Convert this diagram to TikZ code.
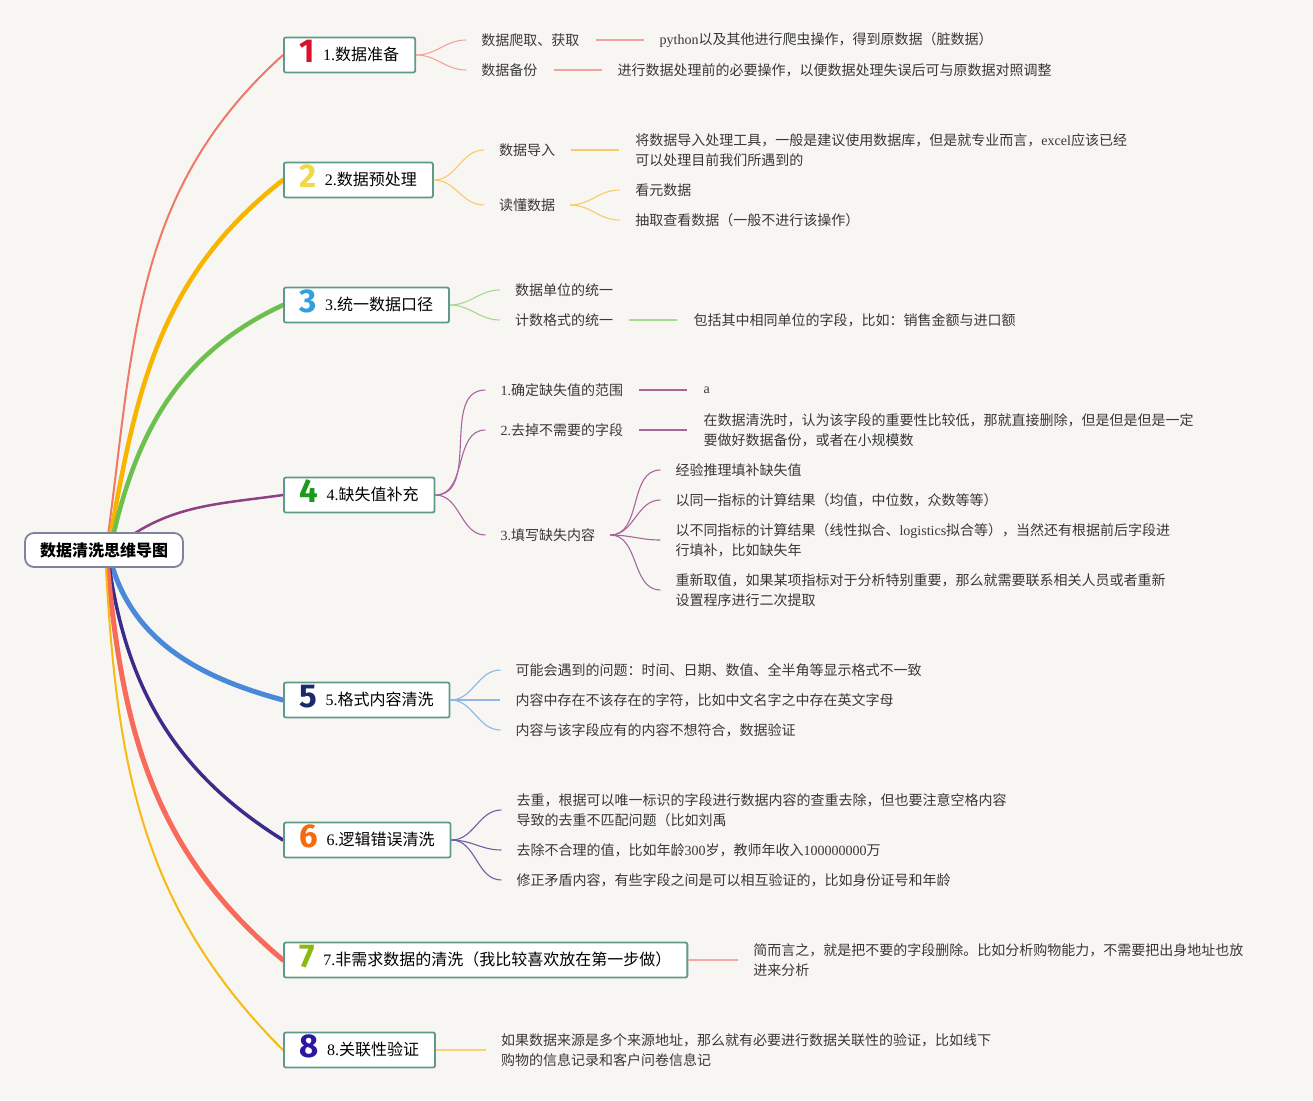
\documentclass[tikz,border=0pt]{standalone}
\usepackage{fontspec}
\setmainfont{Noto Sans CJK SC}
\newfontfamily\latfont{Liberation Serif}
\newfontfamily\numfont{Fira Sans}
\usetikzlibrary{positioning,backgrounds}
\definecolor{cleanPaper}{HTML}{F8F6F2}
\definecolor{cleanInk}{HTML}{383838}
\definecolor{cleanTeal}{HTML}{5E9A8A}
\definecolor{cleanRootLine}{HTML}{7D849E}
\definecolor{mainA}{HTML}{F07868}
\definecolor{mainB}{HTML}{F7B500}
\definecolor{mainC}{HTML}{6DC04E}
\definecolor{mainD}{HTML}{8E3F86}
\definecolor{mainE}{HTML}{4A88D8}
\definecolor{mainF}{HTML}{3B2C8C}
\definecolor{mainG}{HTML}{F86A5A}
\definecolor{mainH}{HTML}{F5BA14}
\definecolor{subA}{HTML}{F2A49B}
\definecolor{subB}{HTML}{F7CB6A}
\definecolor{subC}{HTML}{A6D98E}
\definecolor{subD}{HTML}{A8659E}
\definecolor{subE}{HTML}{8EB6E6}
\definecolor{subF}{HTML}{6B5FA8}
\definecolor{subG}{HTML}{F2AAA2}
\definecolor{subH}{HTML}{F8D27A}
\definecolor{numA}{HTML}{D7132B}
\definecolor{numB}{HTML}{F2D844}
\definecolor{numC}{HTML}{2FA0DC}
\definecolor{numD}{HTML}{1C9A1E}
\definecolor{numE}{HTML}{1B2A6B}
\definecolor{numF}{HTML}{F36B0C}
\definecolor{numG}{HTML}{8AB814}
\definecolor{numH}{HTML}{2C17A0}
\newcommand{\en}[1]{{\latfont #1}}
\newcommand{\BigNum}[2]{\raisebox{-1.5pt}{\numfont\bfseries\fontsize{33}{33}\selectfont\color{#1}#2}\hspace{8pt}}

\begin{document}
\begin{tikzpicture}[x=1pt, y=1pt,
		root/.style={rectangle, rounded corners=9pt, draw=cleanRootLine, line width=1.8pt, fill=white, minimum width=158pt, minimum height=34pt, font=\fontsize{16}{20}\selectfont\bfseries},
		topic/.style={rectangle, rounded corners=2pt, draw=cleanTeal, line width=1.8pt, fill=white, minimum height=35pt, text height=14pt, text depth=3pt, inner xsep=16pt, inner ysep=0pt, anchor=west, font=\fontsize{16}{20}\selectfont},
		leaf/.style={inner sep=0pt, anchor=west, align=left, text=cleanInk, font=\fontsize{14}{20}\selectfont},
		trunk/.style={line cap=round},
		twig/.style={line width=1.1pt}
	]
		\begin{scope}[on background layer]
			\fill[cleanPaper] (0,0) rectangle (1313,-1100);
		\end{scope}
		\useasboundingbox (0,0) rectangle (1313,-1100);

		\node[root] (root) at (104,-550) {数据清洗思维导图};
		\node[topic] (t1) at (283,-55) {\BigNum{numA}{1}\en{1.}数据准备};
		\node[topic] (t2) at (283,-180) {\BigNum{numB}{2}\en{2.}数据预处理};
		\node[topic] (t3) at (283,-305) {\BigNum{numC}{3}\en{3.}统一数据口径};
		\node[topic] (t4) at (283,-495) {\BigNum{numD}{4}\en{4.}缺失值补充};
		\node[topic] (t5) at (283,-700) {\BigNum{numE}{5}\en{5.}格式内容清洗};
		\node[topic] (t6) at (283,-840) {\BigNum{numF}{6}\en{6.}逻辑错误清洗};
		\node[topic] (t7) at (283,-960) {\BigNum{numG}{7}\en{7.}非需求数据的清洗（我比较喜欢放在第一步做）};
		\node[topic] (t8) at (283,-1050) {\BigNum{numH}{8}\en{8.}关联性验证};

		\node[leaf, right=65pt of t1, yshift=15pt] (t1a) {数据爬取、获取};
		\node[leaf, right=80pt of t1a] (t1ax) {\en{python}以及其他进行爬虫操作，得到原数据（脏数据）};
		\node[leaf, right=65pt of t1, yshift=-15pt] (t1b) {数据备份};
		\node[leaf, right=80pt of t1b] (t1bx) {进行数据处理前的必要操作，以便数据处理失误后可与原数据对照调整};

		\node[leaf, right=65pt of t2, yshift=30pt] (t2a) {数据导入};
		\node[leaf, right=80pt of t2a] (t2ax) {将数据导入处理工具，一般是建议使用数据库，但是就专业而言，\en{excel}应该已经\\可以处理目前我们所遇到的};
		\node[leaf, right=65pt of t2, yshift=-25pt] (t2b) {读懂数据};
		\node[leaf, right=80pt of t2b, yshift=15pt] (t2b1) {看元数据};
		\node[leaf, right=80pt of t2b, yshift=-15pt] (t2b2) {抽取查看数据（一般不进行该操作）};

		\node[leaf, right=65pt of t3, yshift=15pt] (t3a) {数据单位的统一};
		\node[leaf, right=65pt of t3, yshift=-15pt] (t3b) {计数格式的统一};
		\node[leaf, right=80pt of t3b] (t3bx) {包括其中相同单位的字段，比如：销售金额与进口额};

		\node[leaf, right=65pt of t4, yshift=105pt] (t4a) {\en{1.}确定缺失值的范围};
		\node[leaf, right=80pt of t4a] (t4ax) {\en{a}};
		\node[leaf, right=65pt of t4, yshift=65pt] (t4b) {\en{2.}去掉不需要的字段};
		\node[leaf, right=80pt of t4b] (t4bx) {在数据清洗时，认为该字段的重要性比较低，那就直接删除，但是但是但是一定\\要做好数据备份，或者在小规模数};
		\node[leaf, right=65pt of t4, yshift=-40pt] (t4c) {\en{3.}填写缺失内容};
		\node[leaf, right=80pt of t4c, yshift=65pt] (t4c1) {经验推理填补缺失值};
		\node[leaf, right=80pt of t4c, yshift=35pt] (t4c2) {以同一指标的计算结果（均值，中位数，众数等等）};
		\node[leaf, right=80pt of t4c, yshift=-5pt] (t4c3) {以不同指标的计算结果（线性拟合、\en{logistics}拟合等），当然还有根据前后字段进\\行填补，比如缺失年};
		\node[leaf, right=80pt of t4c, yshift=-55pt] (t4c4) {重新取值，如果某项指标对于分析特别重要，那么就需要联系相关人员或者重新\\设置程序进行二次提取};

		\node[leaf, right=65pt of t5, yshift=30pt] (t5a) {可能会遇到的问题：时间、日期、数值、全半角等显示格式不一致};
		\node[leaf, right=65pt of t5] (t5b) {内容中存在不该存在的字符，比如中文名字之中存在英文字母};
		\node[leaf, right=65pt of t5, yshift=-30pt] (t5c) {内容与该字段应有的内容不想符合，数据验证};

		\node[leaf, right=65pt of t6, yshift=30pt] (t6a) {去重，根据可以唯一标识的字段进行数据内容的查重去除，但也要注意空格内容\\导致的去重不匹配问题（比如刘禹};
		\node[leaf, right=65pt of t6, yshift=-10pt] (t6b) {去除不合理的值，比如年龄\en{300}岁，教师年收入\en{100000000}万};
		\node[leaf, right=65pt of t6, yshift=-40pt] (t6c) {修正矛盾内容，有些字段之间是可以相互验证的，比如身份证号和年龄};

		\node[leaf, right=65pt of t7] (t7x) {简而言之，就是把不要的字段删除。比如分析购物能力，不需要把出身地址也放\\进来分析};
		\node[leaf, right=65pt of t8] (t8x) {如果数据来源是多个来源地址，那么就有必要进行数据关联性的验证，比如线下\\购物的信息记录和客户问卷信息记};

		\begin{scope}[on background layer]
			\draw[trunk, line width=2pt, mainA] ([xshift=2pt]root.center) to[out=82, in=222] (t1.west);
			\draw[trunk, line width=4.5pt, mainB] ([xshift=4pt]root.center) to[out=80, in=218] (t2.west);
			\draw[trunk, line width=4.5pt, mainC] ([xshift=6pt]root.center) to[out=78, in=205] (t3.west);
			\draw[trunk, line width=2.5pt, mainD] ([xshift=8pt]root.center) to[out=40, in=188] (t4.west);
			\draw[trunk, line width=5pt, mainE] ([xshift=4pt]root.center) to[out=-78, in=165] (t5.west);
			\draw[trunk, line width=3.5pt, mainF] ([xshift=3pt]root.center) to[out=-83, in=148] (t6.west);
			\draw[trunk, line width=5pt, mainG] ([xshift=2pt]root.center) to[out=-85, in=140] (t7.west);
			\draw[trunk, line width=2pt, mainH] ([xshift=1pt]root.center) to[out=-87, in=135] (t8.west);
		\end{scope}

		\draw[twig, subA] (t1.east) to[out=0, in=180] ([xshift=-15pt]t1a.west);
		\draw[twig, subA] (t1.east) to[out=0, in=180] ([xshift=-15pt]t1b.west);
		\draw[twig, subA] ([xshift=16pt]t1a.east) -- ([xshift=-16pt]t1ax.west);
		\draw[twig, subA] ([xshift=16pt]t1b.east) -- ([xshift=-16pt]t1bx.west);

		\draw[twig, subB] (t2.east) to[out=0, in=180] ([xshift=-15pt]t2a.west);
		\draw[twig, subB] (t2.east) to[out=0, in=180] ([xshift=-15pt]t2b.west);
		\draw[twig, subB] ([xshift=16pt]t2a.east) -- ([xshift=-16pt]t2ax.west);
		\draw[twig, subB] ([xshift=15pt]t2b.east) to[out=0, in=180] ([xshift=-16pt]t2b1.west);
		\draw[twig, subB] ([xshift=15pt]t2b.east) to[out=0, in=180] ([xshift=-16pt]t2b2.west);

		\draw[twig, subC] (t3.east) to[out=0, in=180] ([xshift=-15pt]t3a.west);
		\draw[twig, subC] (t3.east) to[out=0, in=180] ([xshift=-15pt]t3b.west);
		\draw[twig, subC] ([xshift=16pt]t3b.east) -- ([xshift=-16pt]t3bx.west);

		\draw[twig, subD] (t4.east) to[out=0, in=180] ([xshift=-15pt]t4a.west);
		\draw[twig, subD] (t4.east) to[out=0, in=180] ([xshift=-15pt]t4b.west);
		\draw[twig, subD] (t4.east) to[out=0, in=180] ([xshift=-15pt]t4c.west);
		\draw[twig, subD] ([xshift=16pt]t4a.east) -- ([xshift=-16pt]t4ax.west);
		\draw[twig, subD] ([xshift=16pt]t4b.east) -- ([xshift=-16pt]t4bx.west);
		\foreach \kid in {t4c1,t4c2,t4c3,t4c4}
			\draw[twig, subD] ([xshift=15pt]t4c.east) to[out=0, in=180] ([xshift=-15pt]\kid.west);

		\foreach \kid in {t5a,t5b,t5c}
			\draw[twig, subE] (t5.east) to[out=0, in=180] ([xshift=-15pt]\kid.west);
		\foreach \kid in {t6a,t6b,t6c}
			\draw[twig, subF] (t6.east) to[out=0, in=180] ([xshift=-15pt]\kid.west);

		\draw[twig, subG] (t7.east) -- ([xshift=-15pt]t7x.west);
		\draw[twig, subH] (t8.east) -- ([xshift=-15pt]t8x.west);
	\end{tikzpicture}
\end{document}
